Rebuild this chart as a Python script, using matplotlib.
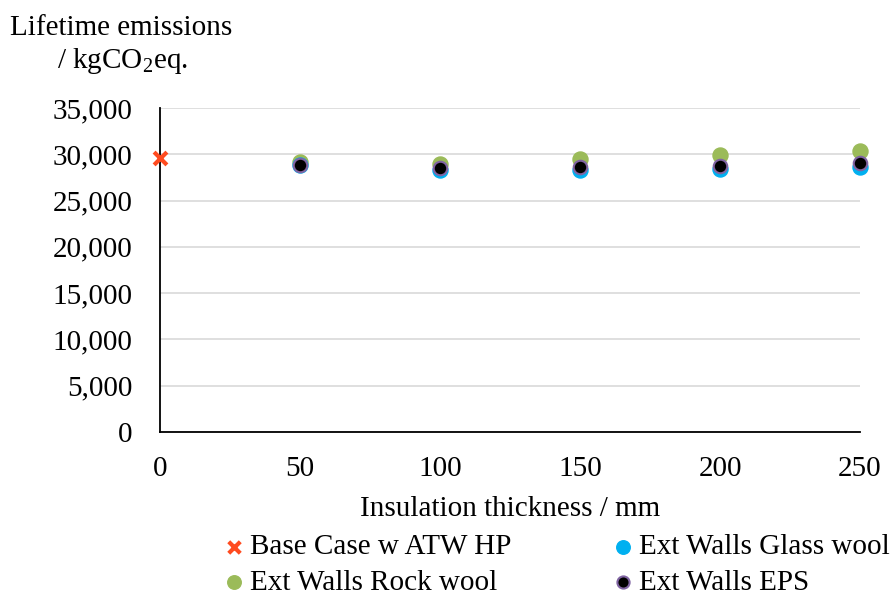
import matplotlib
matplotlib.use("Agg")
import matplotlib.pyplot as plt
from matplotlib.ticker import FuncFormatter

plt.rcParams['font.family'] = ['Liberation Serif', 'DejaVu Serif']

# Data
base_x = [0]
base_y = [29600]
thickness = [50, 100, 150, 200, 250]
glass_wool = [28800, 28300, 28300, 28400, 28600]
rock_wool = [29200, 29000, 29450, 29900, 30400]
eps = [28850, 28500, 28600, 28770, 29100]

FS = 21

fig = plt.figure(figsize=(8.92, 5.96), dpi=100)
ax = fig.add_axes([160/892, 1-432/596, 700/892, 324/596])

h_base = ax.scatter(base_x, base_y, marker='x', s=85, color='#FF4B1F', linewidths=3.0,
                    label='Base Case w ATW HP', zorder=5, clip_on=False)
h_glass = ax.scatter(thickness, glass_wool, marker='o', s=117, color='#00B0F0',
                     label='Ext Walls Glass wool', zorder=3, clip_on=False)
h_rock = ax.scatter(thickness, rock_wool, marker='o', s=117, color='#9BBB59',
                    label='Ext Walls Rock wool', zorder=2, clip_on=False)
h_eps = ax.scatter(thickness, eps, marker='o', s=95, color='black', edgecolors='#8064A2',
                   linewidths=1.5, label='Ext Walls EPS', zorder=4, clip_on=False)

ax.set_xlim(0, 250)
ax.set_ylim(0, 35000)
ax.set_xticks([0, 50, 100, 150, 200, 250])
ax.set_yticks(range(0, 35001, 5000))
ax.yaxis.set_major_formatter(FuncFormatter(lambda v, p: f"{int(v):,}"))
ax.tick_params(length=0, labelsize=FS)
ax.tick_params(axis='x', pad=17)
ax.tick_params(axis='y', pad=20)
ax.yaxis.grid(True, color='#D9D9D9', linewidth=1.2)
ax.set_axisbelow(True)
for s in ['top', 'right']:
    ax.spines[s].set_visible(False)
for s in ['left', 'bottom']:
    ax.spines[s].set_color('black')
    ax.spines[s].set_linewidth(1.3)

ax.set_xlabel('Insulation thickness / mm', fontsize=FS, labelpad=10)
fig.text(10/892, 1-28/596, 'Lifetime emissions', fontsize=FS, va='center', ha='left')
fig.text(57/892, 1-61/596, '/ kgCO$_\\mathregular{2}$eq.', fontsize=FS, va='center', ha='left')

# Legend: two columns, each placed on its own
leg_kw = dict(loc='upper left', frameon=False, fontsize=FS, handlelength=0.8,
              handletextpad=0.15, labelspacing=0.3, markerscale=0.9,
              borderpad=0.0, borderaxespad=0.0)
leg1 = fig.legend([h_base, h_rock], ['Base Case w ATW HP', 'Ext Walls Rock wool'],
                  bbox_to_anchor=(222/892, 1-534/596), **leg_kw)
leg2 = fig.legend([h_glass, h_eps], ['Ext Walls Glass wool', 'Ext Walls EPS'],
                  bbox_to_anchor=(611/892, 1-534/596), **leg_kw)

fig.savefig('out.png', dpi=100)
